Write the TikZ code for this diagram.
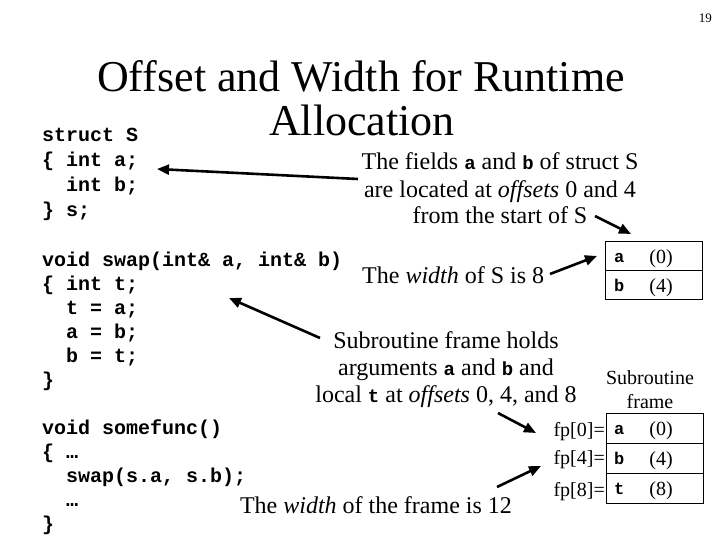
\documentclass[tikz,border=0pt]{standalone}
\usepackage{fontspec}
\setmainfont{Liberation Serif}
\setmonofont{Liberation Mono}
\usetikzlibrary{arrows.meta}
\tikzset{
  code/.style={font=\ttfamily\bfseries\fontsize{20}{24}\selectfont, anchor=base west, inner sep=0pt},
  body/.style={font=\fontsize{24}{28}\selectfont, anchor=base, inner sep=0pt},
  title/.style={font=\fontsize{44}{44}\selectfont, anchor=base, inner sep=0pt},
  smalltxt/.style={font=\fontsize{20}{24}\selectfont, inner sep=0pt},
  cellcode/.style={font=\ttfamily\bfseries\fontsize{17}{18}\selectfont, anchor=base west, inner sep=0pt},
  cellnum/.style={font=\fontsize{20}{24}\selectfont, anchor=base, inner sep=0pt},
  arr/.style={line width=2.6pt, -{Triangle[length=12pt,width=10pt]}},
  cell/.style={draw, line width=1pt}
}
\newcommand{\cdw}[1]{{\ttfamily\bfseries\fontsize{19}{20}\selectfont #1}}
\begin{document}
\begin{tikzpicture}[x=1pt,y=-1pt]
\useasboundingbox (0,0) rectangle (720,540);
% page number
\node[font=\fontsize{13}{14}\selectfont, anchor=base east, inner sep=0pt] (pg) at (712,23) {19};
% title
\node[title] (t1) at (361,92) {Offset and Width for Runtime};
\node[title] (t2) at (362,136) {Allocation};
% struct code
\node[code] (s1) at (42,142) {struct S};
\node[code] (s2) at (42,167) {\{ int a;};
\node[code] (s3) at (66,192) {int b;};
\node[code] (s4) at (42,217) {\} s;};
% swap code
\node[code] (w1) at (42,266) {void swap(int\& a, int\& b)};
\node[code] (w2) at (42,290) {\{ int t;};
\node[code] (w3) at (66,314) {t = a;};
\node[code] (w4) at (66,338) {a = b;};
\node[code] (w5) at (66,362) {b = t;};
\node[code] (w6) at (42,386) {\}};
% somefunc code
\node[code] (f1) at (42,434) {void somefunc()};
\node[code] (f2) at (42,458) {\{ …};
\node[code] (f3) at (66,482) {swap(s.a, s.b);};
\node[code] (f4) at (66,506) {…};
\node[code] (f5) at (42,530) {\}};
% right texts
\node[body] (r1) at (500,170) {The fields \cdw{a} and \cdw{b} of struct S};
\node[body] (r2) at (500,197) {are located at \textit{offsets} 0 and 4};
\node[body] (r3) at (500,224) {from the start of S};
\node[body, anchor=base west] (ws) at (362,283) {The \textit{width} of S is 8};
\node[body] (q1) at (446,348) {Subroutine frame holds};
\node[body] (q2) at (446,375) {arguments \cdw{a} and \cdw{b} and};
\node[body] (q3) at (446,402) {local \cdw{t} at \textit{offsets} 0, 4, and 8};
\node[body] (wf) at (376,513) {The \textit{width} of the frame is 12};
\node[smalltxt, anchor=base] (sf1) at (650,384) {Subroutine};
\node[smalltxt, anchor=base] (sf2) at (650,408) {frame};
% struct box
\draw[cell] (605,241) rectangle (702,299);
\draw[cell] (605,270) -- (702,270);
\node[cellcode] (ba) at (614,262) {a};
\node[cellnum] (b0) at (661,263) {(0)};
\node[cellcode] (bb) at (614,291) {b};
\node[cellnum] (b4) at (661,292) {(4)};
% frame box
\draw[cell] (606,413) rectangle (703,503);
\draw[cell] (606,443) -- (703,443);
\draw[cell] (606,473) -- (703,473);
\node[cellcode] (fa) at (614,434) {a};
\node[cellnum] (f0v) at (661,435) {(0)};
\node[cellcode] (fb) at (614,464) {b};
\node[cellnum] (f4v) at (661,465) {(4)};
\node[cellcode] (ft) at (614,494) {t};
\node[cellnum] (f8v) at (661,495) {(8)};
\node[smalltxt, anchor=base east] (p0) at (605,436) {fp[0]=};
\node[smalltxt, anchor=base east] (p4) at (605,464) {fp[4]=};
\node[smalltxt, anchor=base east] (p8) at (605,496) {fp[8]=};
% arrows
\coordinate (a1s) at (358,179); \coordinate (a1e) at (157,169);
\coordinate (a2s) at (595,216); \coordinate (a2e) at (631,234);
\coordinate (a3s) at (550,274); \coordinate (a3e) at (597,256);
\coordinate (a4s) at (320,338); \coordinate (a4e) at (229,298);
\coordinate (a5s) at (498,413); \coordinate (a5e) at (536,433);
\coordinate (a6s) at (497,487); \coordinate (a6e) at (541,466);
\draw[arr] (a1s) -- (a1e);
\draw[arr] (a2s) -- (a2e);
\draw[arr] (a3s) -- (a3e);
\draw[arr] (a4s) -- (a4e);
\draw[arr] (a5s) -- (a5e);
\draw[arr] (a6s) -- (a6e);
\end{tikzpicture}
\end{document}
